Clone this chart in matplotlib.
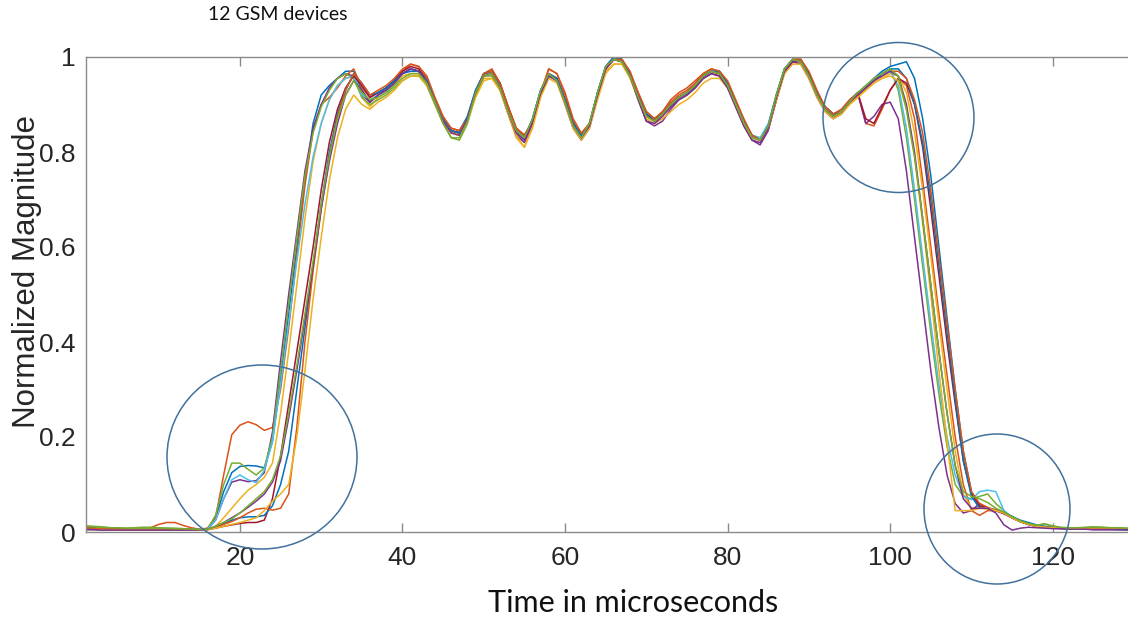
import matplotlib
matplotlib.use("Agg")
import matplotlib.pyplot as plt
from matplotlib.patches import Ellipse

# time axis, microseconds (one sample per us)
t = list(range(1, 131))

# normalized magnitude of the 12 GSM devices
dev01 = [0.010, 0.009, 0.007, 0.006, 0.006, 0.005, 0.005, 0.005, 0.006, 0.006,
         0.006, 0.007, 0.006, 0.005, 0.004, 0.006, 0.030, 0.085, 0.125, 0.138,
         0.140, 0.139, 0.135, 0.190, 0.320, 0.460, 0.600, 0.740, 0.860, 0.920,
         0.940, 0.955, 0.970, 0.970, 0.930, 0.905, 0.920, 0.930, 0.945, 0.965,
         0.970, 0.970, 0.945, 0.905, 0.865, 0.840, 0.845, 0.875, 0.930, 0.965,
         0.965, 0.935, 0.885, 0.840, 0.825, 0.870, 0.930, 0.965, 0.950, 0.905,
         0.855, 0.830, 0.860, 0.925, 0.980, 1.000, 0.995, 0.960, 0.915, 0.875,
         0.865, 0.880, 0.900, 0.915, 0.925, 0.940, 0.960, 0.970, 0.965, 0.940,
         0.900, 0.860, 0.830, 0.825, 0.855, 0.920, 0.975, 0.995, 0.990, 0.960,
         0.920, 0.890, 0.875, 0.885, 0.905, 0.920, 0.935, 0.955, 0.970, 0.980,
         0.985, 0.990, 0.955, 0.870, 0.750, 0.600, 0.450, 0.300, 0.170, 0.085,
         0.055, 0.050, 0.045, 0.040, 0.032, 0.025, 0.020, 0.015, 0.012, 0.010,
         0.009, 0.008, 0.008, 0.007, 0.007, 0.007, 0.006, 0.006, 0.006, 0.006]

dev02 = [0.008, 0.007, 0.006, 0.006, 0.006, 0.006, 0.006, 0.007, 0.009, 0.016,
         0.020, 0.020, 0.014, 0.009, 0.006, 0.008, 0.030, 0.120, 0.205, 0.225,
         0.232, 0.226, 0.214, 0.220, 0.300, 0.430, 0.580, 0.730, 0.845, 0.900,
         0.915, 0.935, 0.960, 0.975, 0.935, 0.915, 0.925, 0.935, 0.950, 0.970,
         0.985, 0.980, 0.955, 0.910, 0.870, 0.850, 0.845, 0.870, 0.925, 0.965,
         0.975, 0.945, 0.895, 0.850, 0.835, 0.865, 0.925, 0.975, 0.965, 0.920,
         0.865, 0.835, 0.855, 0.920, 0.975, 0.995, 0.990, 0.965, 0.925, 0.885,
         0.870, 0.885, 0.910, 0.925, 0.935, 0.950, 0.965, 0.975, 0.970, 0.945,
         0.905, 0.865, 0.835, 0.825, 0.850, 0.915, 0.970, 0.995, 0.995, 0.965,
         0.925, 0.895, 0.880, 0.890, 0.910, 0.925, 0.860, 0.855, 0.890, 0.930,
         0.955, 0.940, 0.870, 0.740, 0.600, 0.460, 0.330, 0.200, 0.100, 0.045,
         0.035, 0.045, 0.045, 0.040, 0.030, 0.022, 0.017, 0.013, 0.010, 0.009,
         0.008, 0.008, 0.007, 0.007, 0.007, 0.006, 0.006, 0.006, 0.006, 0.006]

dev03 = [0.007, 0.007, 0.006, 0.006, 0.006, 0.005, 0.005, 0.005, 0.005, 0.006,
         0.006, 0.006, 0.005, 0.005, 0.005, 0.006, 0.012, 0.030, 0.050, 0.070,
         0.088, 0.100, 0.115, 0.145, 0.250, 0.380, 0.520, 0.660, 0.780, 0.860,
         0.910, 0.940, 0.955, 0.960, 0.915, 0.895, 0.915, 0.925, 0.940, 0.960,
         0.965, 0.965, 0.940, 0.900, 0.860, 0.840, 0.840, 0.870, 0.920, 0.955,
         0.955, 0.930, 0.880, 0.830, 0.810, 0.860, 0.920, 0.960, 0.950, 0.905,
         0.855, 0.830, 0.855, 0.915, 0.970, 0.985, 0.985, 0.960, 0.915, 0.880,
         0.870, 0.880, 0.895, 0.910, 0.920, 0.935, 0.955, 0.965, 0.960, 0.940,
         0.905, 0.865, 0.835, 0.830, 0.850, 0.910, 0.965, 0.990, 0.985, 0.960,
         0.920, 0.890, 0.875, 0.880, 0.900, 0.915, 0.930, 0.945, 0.955, 0.965,
         0.960, 0.925, 0.840, 0.720, 0.580, 0.440, 0.300, 0.170, 0.080, 0.050,
         0.050, 0.048, 0.045, 0.040, 0.030, 0.022, 0.016, 0.012, 0.010, 0.009,
         0.008, 0.008, 0.007, 0.007, 0.006, 0.006, 0.006, 0.006, 0.006, 0.006]

dev04 = [0.006, 0.005, 0.005, 0.004, 0.004, 0.004, 0.004, 0.004, 0.004, 0.004,
         0.004, 0.004, 0.004, 0.004, 0.004, 0.006, 0.025, 0.070, 0.105, 0.110,
         0.106, 0.108, 0.125, 0.210, 0.360, 0.500, 0.630, 0.760, 0.850, 0.900,
         0.935, 0.955, 0.965, 0.960, 0.920, 0.905, 0.920, 0.935, 0.950, 0.965,
         0.975, 0.970, 0.945, 0.905, 0.870, 0.845, 0.840, 0.870, 0.925, 0.960,
         0.965, 0.935, 0.880, 0.835, 0.820, 0.860, 0.920, 0.960, 0.950, 0.900,
         0.850, 0.825, 0.850, 0.915, 0.975, 0.995, 0.990, 0.960, 0.910, 0.865,
         0.855, 0.865, 0.890, 0.910, 0.920, 0.935, 0.955, 0.965, 0.960, 0.935,
         0.895, 0.855, 0.825, 0.815, 0.845, 0.910, 0.970, 0.990, 0.985, 0.955,
         0.915, 0.885, 0.870, 0.880, 0.905, 0.925, 0.860, 0.875, 0.900, 0.905,
         0.870, 0.760, 0.620, 0.480, 0.340, 0.220, 0.120, 0.060, 0.040, 0.045,
         0.060, 0.050, 0.045, 0.038, 0.030, 0.022, 0.016, 0.012, 0.010, 0.008,
         0.007, 0.006, 0.006, 0.006, 0.005, 0.005, 0.005, 0.005, 0.005, 0.005]

dev05 = [0.013, 0.012, 0.011, 0.009, 0.008, 0.008, 0.009, 0.010, 0.010, 0.009,
         0.008, 0.008, 0.007, 0.006, 0.005, 0.006, 0.035, 0.100, 0.145, 0.145,
         0.132, 0.120, 0.135, 0.200, 0.340, 0.480, 0.620, 0.750, 0.840, 0.895,
         0.930, 0.955, 0.965, 0.955, 0.915, 0.900, 0.910, 0.920, 0.935, 0.950,
         0.960, 0.960, 0.940, 0.900, 0.860, 0.830, 0.825, 0.860, 0.920, 0.960,
         0.960, 0.930, 0.885, 0.840, 0.830, 0.865, 0.925, 0.965, 0.950, 0.905,
         0.855, 0.830, 0.860, 0.925, 0.980, 0.995, 0.990, 0.960, 0.915, 0.875,
         0.865, 0.880, 0.900, 0.915, 0.925, 0.940, 0.960, 0.970, 0.965, 0.940,
         0.900, 0.860, 0.830, 0.825, 0.855, 0.920, 0.975, 0.995, 0.990, 0.960,
         0.920, 0.890, 0.875, 0.885, 0.905, 0.920, 0.935, 0.950, 0.965, 0.975,
         0.930, 0.830, 0.700, 0.560, 0.420, 0.290, 0.180, 0.100, 0.075, 0.070,
         0.075, 0.080, 0.060, 0.045, 0.030, 0.022, 0.016, 0.014, 0.017, 0.012,
         0.009, 0.008, 0.008, 0.009, 0.010, 0.010, 0.009, 0.009, 0.008, 0.008]

dev06 = [0.005, 0.005, 0.004, 0.004, 0.004, 0.004, 0.004, 0.004, 0.004, 0.005,
         0.005, 0.005, 0.005, 0.005, 0.005, 0.006, 0.025, 0.070, 0.110, 0.120,
         0.110, 0.104, 0.130, 0.190, 0.310, 0.440, 0.570, 0.690, 0.790, 0.860,
         0.910, 0.940, 0.955, 0.960, 0.920, 0.910, 0.920, 0.930, 0.945, 0.965,
         0.975, 0.970, 0.950, 0.910, 0.870, 0.845, 0.840, 0.875, 0.930, 0.965,
         0.965, 0.940, 0.890, 0.845, 0.830, 0.870, 0.930, 0.965, 0.955, 0.910,
         0.860, 0.835, 0.860, 0.925, 0.980, 0.995, 0.990, 0.965, 0.920, 0.880,
         0.870, 0.880, 0.900, 0.915, 0.925, 0.940, 0.960, 0.970, 0.970, 0.945,
         0.905, 0.865, 0.835, 0.830, 0.860, 0.920, 0.975, 0.995, 0.990, 0.965,
         0.925, 0.895, 0.880, 0.885, 0.905, 0.925, 0.940, 0.955, 0.965, 0.970,
         0.940, 0.850, 0.720, 0.580, 0.440, 0.310, 0.200, 0.120, 0.075, 0.068,
         0.085, 0.088, 0.085, 0.045, 0.030, 0.022, 0.016, 0.012, 0.010, 0.009,
         0.008, 0.007, 0.007, 0.007, 0.006, 0.006, 0.006, 0.006, 0.006, 0.006]

dev07 = [0.006, 0.006, 0.005, 0.005, 0.005, 0.005, 0.005, 0.005, 0.005, 0.005,
         0.005, 0.005, 0.005, 0.005, 0.004, 0.005, 0.008, 0.012, 0.015, 0.018,
         0.020, 0.020, 0.025, 0.070, 0.160, 0.270, 0.380, 0.490, 0.600, 0.720,
         0.820, 0.890, 0.935, 0.960, 0.940, 0.915, 0.925, 0.935, 0.950, 0.970,
         0.980, 0.975, 0.950, 0.910, 0.870, 0.845, 0.840, 0.870, 0.925, 0.965,
         0.970, 0.945, 0.895, 0.850, 0.835, 0.865, 0.925, 0.965, 0.955, 0.910,
         0.860, 0.835, 0.855, 0.920, 0.975, 0.995, 0.995, 0.965, 0.920, 0.880,
         0.865, 0.880, 0.900, 0.915, 0.925, 0.940, 0.960, 0.970, 0.965, 0.945,
         0.905, 0.865, 0.835, 0.825, 0.850, 0.910, 0.970, 0.990, 0.995, 0.965,
         0.925, 0.895, 0.880, 0.885, 0.905, 0.925, 0.870, 0.860, 0.895, 0.930,
         0.955, 0.945, 0.900, 0.810, 0.680, 0.540, 0.400, 0.270, 0.150, 0.080,
         0.055, 0.050, 0.045, 0.040, 0.030, 0.022, 0.016, 0.012, 0.010, 0.009,
         0.008, 0.007, 0.007, 0.006, 0.006, 0.006, 0.006, 0.006, 0.005, 0.005]

dev08 = [0.006, 0.006, 0.005, 0.005, 0.005, 0.005, 0.005, 0.005, 0.005, 0.005,
         0.006, 0.006, 0.005, 0.005, 0.005, 0.005, 0.010, 0.018, 0.025, 0.030,
         0.032, 0.032, 0.035, 0.055, 0.100, 0.170, 0.300, 0.430, 0.560, 0.690,
         0.800, 0.880, 0.930, 0.965, 0.945, 0.920, 0.925, 0.935, 0.950, 0.965,
         0.975, 0.970, 0.950, 0.910, 0.870, 0.845, 0.840, 0.875, 0.930, 0.965,
         0.970, 0.940, 0.890, 0.845, 0.830, 0.870, 0.930, 0.965, 0.955, 0.910,
         0.860, 0.835, 0.860, 0.925, 0.980, 1.000, 0.995, 0.965, 0.920, 0.880,
         0.870, 0.880, 0.900, 0.915, 0.925, 0.940, 0.960, 0.970, 0.970, 0.945,
         0.905, 0.865, 0.835, 0.825, 0.855, 0.920, 0.975, 0.995, 0.995, 0.965,
         0.925, 0.895, 0.880, 0.885, 0.905, 0.920, 0.935, 0.950, 0.965, 0.975,
         0.975, 0.955, 0.900, 0.820, 0.700, 0.560, 0.420, 0.280, 0.150, 0.075,
         0.050, 0.050, 0.047, 0.042, 0.033, 0.024, 0.017, 0.013, 0.010, 0.009,
         0.008, 0.007, 0.007, 0.006, 0.006, 0.006, 0.006, 0.005, 0.005, 0.005]

dev09 = [0.009, 0.008, 0.007, 0.007, 0.006, 0.006, 0.006, 0.006, 0.006, 0.006,
         0.006, 0.006, 0.006, 0.005, 0.005, 0.005, 0.010, 0.016, 0.022, 0.030,
         0.040, 0.048, 0.050, 0.046, 0.050, 0.080, 0.220, 0.400, 0.550, 0.680,
         0.790, 0.875, 0.930, 0.965, 0.945, 0.920, 0.930, 0.940, 0.955, 0.975,
         0.985, 0.980, 0.960, 0.915, 0.875, 0.850, 0.845, 0.870, 0.925, 0.965,
         0.970, 0.945, 0.895, 0.850, 0.835, 0.865, 0.925, 0.975, 0.965, 0.925,
         0.870, 0.840, 0.860, 0.920, 0.975, 0.995, 0.995, 0.970, 0.925, 0.885,
         0.870, 0.885, 0.905, 0.920, 0.930, 0.945, 0.965, 0.975, 0.970, 0.950,
         0.910, 0.870, 0.835, 0.825, 0.850, 0.910, 0.970, 0.995, 0.995, 0.970,
         0.930, 0.895, 0.880, 0.885, 0.905, 0.920, 0.935, 0.950, 0.960, 0.970,
         0.970, 0.955, 0.910, 0.840, 0.720, 0.580, 0.440, 0.300, 0.170, 0.085,
         0.060, 0.052, 0.046, 0.040, 0.030, 0.022, 0.016, 0.012, 0.010, 0.009,
         0.008, 0.008, 0.007, 0.007, 0.007, 0.006, 0.006, 0.006, 0.006, 0.006]

dev10 = [0.005, 0.005, 0.005, 0.004, 0.004, 0.004, 0.004, 0.004, 0.004, 0.004,
         0.004, 0.004, 0.004, 0.004, 0.004, 0.005, 0.008, 0.012, 0.016, 0.020,
         0.025, 0.030, 0.045, 0.065, 0.080, 0.100, 0.200, 0.340, 0.490, 0.620,
         0.740, 0.830, 0.890, 0.920, 0.900, 0.890, 0.905, 0.915, 0.930, 0.950,
         0.960, 0.960, 0.940, 0.905, 0.865, 0.840, 0.835, 0.865, 0.915, 0.950,
         0.955, 0.930, 0.880, 0.835, 0.810, 0.850, 0.915, 0.955, 0.945, 0.900,
         0.850, 0.825, 0.850, 0.910, 0.965, 0.985, 0.985, 0.955, 0.910, 0.870,
         0.860, 0.870, 0.885, 0.900, 0.910, 0.925, 0.945, 0.955, 0.955, 0.935,
         0.900, 0.860, 0.830, 0.825, 0.850, 0.910, 0.965, 0.985, 0.985, 0.955,
         0.915, 0.885, 0.870, 0.880, 0.900, 0.915, 0.930, 0.945, 0.955, 0.960,
         0.950, 0.890, 0.790, 0.650, 0.500, 0.340, 0.190, 0.045, 0.045, 0.045,
         0.050, 0.050, 0.045, 0.040, 0.030, 0.022, 0.016, 0.012, 0.010, 0.009,
         0.008, 0.008, 0.007, 0.007, 0.006, 0.006, 0.006, 0.006, 0.006, 0.006]

dev11 = [0.005, 0.005, 0.004, 0.004, 0.004, 0.004, 0.004, 0.004, 0.004, 0.004,
         0.004, 0.004, 0.004, 0.004, 0.004, 0.006, 0.012, 0.020, 0.030, 0.040,
         0.052, 0.065, 0.080, 0.105, 0.150, 0.240, 0.340, 0.450, 0.560, 0.680,
         0.780, 0.860, 0.920, 0.950, 0.930, 0.905, 0.920, 0.930, 0.945, 0.965,
         0.975, 0.970, 0.945, 0.905, 0.865, 0.840, 0.835, 0.870, 0.925, 0.960,
         0.965, 0.935, 0.885, 0.840, 0.825, 0.865, 0.925, 0.960, 0.950, 0.905,
         0.855, 0.830, 0.855, 0.920, 0.975, 0.995, 0.990, 0.960, 0.910, 0.865,
         0.860, 0.875, 0.895, 0.910, 0.920, 0.935, 0.955, 0.965, 0.960, 0.935,
         0.895, 0.855, 0.825, 0.820, 0.850, 0.915, 0.970, 0.990, 0.990, 0.960,
         0.920, 0.890, 0.875, 0.885, 0.905, 0.920, 0.935, 0.950, 0.960, 0.970,
         0.960, 0.900, 0.800, 0.660, 0.520, 0.380, 0.250, 0.140, 0.070, 0.050,
         0.050, 0.050, 0.040, 0.015, 0.004, 0.008, 0.010, 0.009, 0.008, 0.007,
         0.007, 0.006, 0.006, 0.006, 0.005, 0.005, 0.005, 0.005, 0.005, 0.005]

dev12 = [0.012, 0.011, 0.010, 0.009, 0.009, 0.008, 0.008, 0.008, 0.008, 0.008,
         0.008, 0.007, 0.007, 0.006, 0.005, 0.006, 0.012, 0.020, 0.028, 0.040,
         0.055, 0.070, 0.085, 0.110, 0.160, 0.250, 0.350, 0.460, 0.570, 0.690,
         0.790, 0.870, 0.920, 0.950, 0.925, 0.910, 0.915, 0.925, 0.940, 0.955,
         0.965, 0.965, 0.945, 0.905, 0.860, 0.830, 0.830, 0.865, 0.925, 0.960,
         0.965, 0.935, 0.885, 0.845, 0.830, 0.870, 0.930, 0.965, 0.950, 0.905,
         0.855, 0.830, 0.860, 0.925, 0.980, 0.995, 0.990, 0.960, 0.915, 0.875,
         0.865, 0.880, 0.900, 0.915, 0.925, 0.940, 0.960, 0.970, 0.965, 0.940,
         0.900, 0.860, 0.830, 0.825, 0.855, 0.920, 0.975, 0.995, 0.990, 0.960,
         0.920, 0.890, 0.875, 0.885, 0.905, 0.925, 0.940, 0.955, 0.965, 0.975,
         0.960, 0.890, 0.790, 0.660, 0.520, 0.380, 0.250, 0.140, 0.085, 0.075,
         0.070, 0.062, 0.050, 0.042, 0.032, 0.024, 0.018, 0.014, 0.017, 0.013,
         0.010, 0.009, 0.009, 0.010, 0.011, 0.010, 0.009, 0.009, 0.008, 0.008]

devices = [dev01, dev02, dev03, dev04, dev05, dev06,
           dev07, dev08, dev09, dev10, dev11, dev12]

# MATLAB default colour order
colors = ["#0072BD", "#D95319", "#EDB120", "#7E2F8E", "#77AC30", "#4DBEEE", "#A2142F"]

xticks = [20, 40, 60, 80, 100, 120]
yticks = [0, 0.2, 0.4, 0.6, 0.8, 1]
ytick_labels = ["0", "0.2", "0.4", "0.6", "0.8", "1"]

W, H = 1128, 621
fig = plt.figure(figsize=(W / 100, H / 100), dpi=100)
ax = fig.add_axes([85.5 / W, 1 - 532 / H, (1134 - 85.5) / W, 475 / H])

for i, y in enumerate(devices):
    ax.plot(t, y, color=colors[i % len(colors)], lw=1.1)

ax.set_xlim(1, 130)
ax.set_ylim(0, 1)
ax.set_xticks(xticks)
ax.set_yticks(yticks)
ax.set_yticklabels(ytick_labels)

for s in ax.spines.values():
    s.set_color("#8a8a8a")
    s.set_linewidth(1.0)
ax.spines["right"].set_visible(False)

ax.tick_params(axis="x", direction="in", length=6.5, width=1.0, color="#8a8a8a",
               top=True, pad=10, labelsize=19, labelcolor="#262626")
ax.tick_params(axis="y", length=0, pad=7, labelsize=19, labelcolor="#262626")
for lab in ax.get_xticklabels() + ax.get_yticklabels():
    lab.set_family(["Liberation Sans", "DejaVu Sans"])

fig.text(27 / W, 1 - 272 / H, "Normalized Magnitude", rotation=90,
         ha="center", va="center", fontsize=22.5, color="#262626",
         family=["Liberation Sans", "DejaVu Sans"])
fig.text(633 / W, 1 - 603 / H, "Time in microseconds", ha="center", va="center",
         fontsize=22, color="#111111", family=["Lato", "DejaVu Sans"])
fig.text(208 / W, 1 - 14 / H, "12 GSM devices", ha="left", va="center",
         fontsize=14, color="#111111", family=["Lato", "DejaVu Sans"])

# hand-drawn circles marking the regions of interest
for cx, cy, w, h in [(262, 457, 190, 184), (898.5, 117.5, 151, 150), (997, 509, 146, 150)]:
    fig.add_artist(Ellipse((cx / W, 1 - cy / H), w / W, h / H, fill=False,
                           edgecolor="#41719C", lw=1.1, transform=fig.transFigure))

fig.savefig("out.png", dpi=100)
